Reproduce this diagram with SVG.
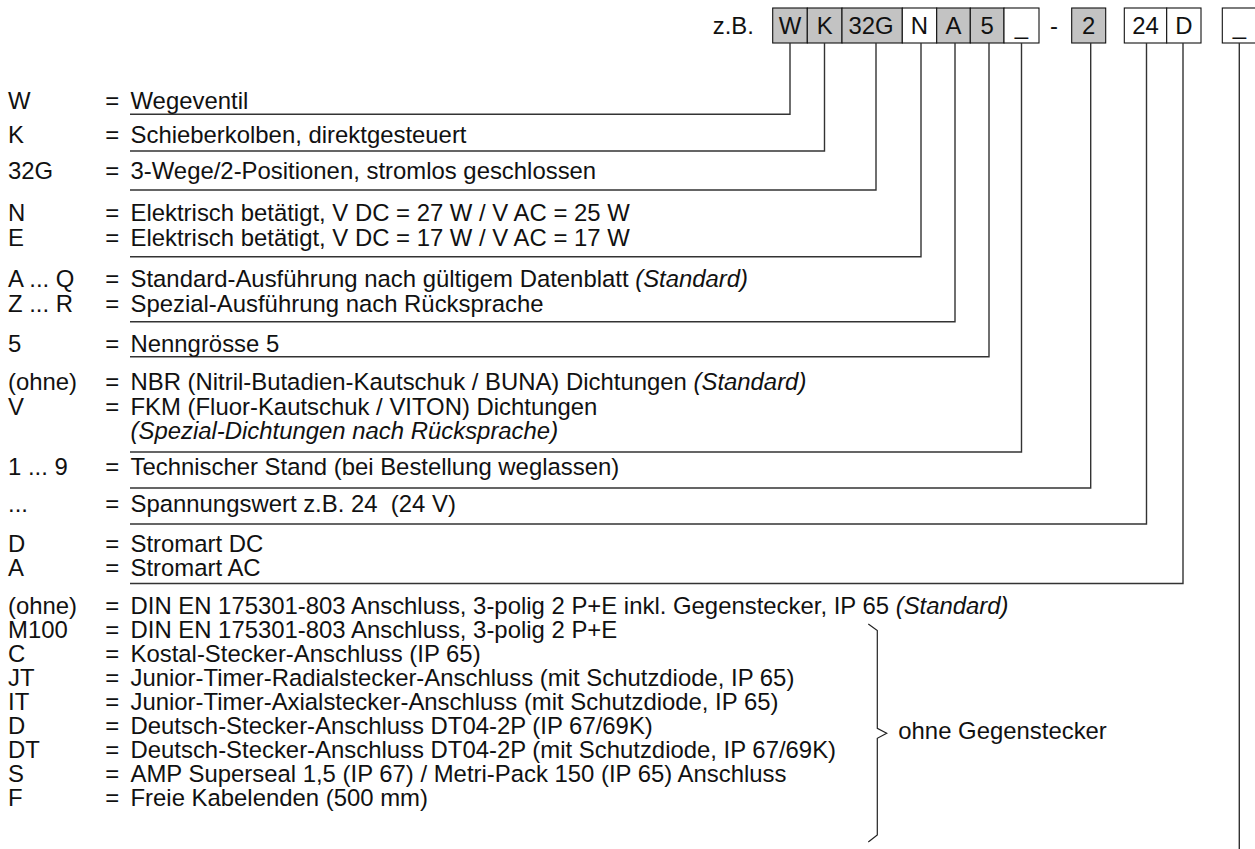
<svg xmlns="http://www.w3.org/2000/svg" width="1255" height="849" viewBox="0 0 1255 849">
<style>
text{font-family:"Liberation Sans",Arial,sans-serif;font-size:23.9px;fill:#111}
.i{font-style:italic}
.m{text-anchor:middle}
.bg{fill:#c3c3c3;stroke:#111;stroke-width:1.1}
.bw{fill:#fff;stroke:#111;stroke-width:1.1}
.c{fill:none;stroke:#333;stroke-width:1.4}
</style>
<rect width="1255" height="849" fill="#fff"/>
<g id="code">
<text x="712.7" y="34">z.B.</text>
<g id="box-W"><rect class="bg" x="772.7" y="8" width="34.6" height="35"/><text class="m" x="790" y="34">W</text></g>
<g id="box-K"><rect class="bg" x="807.3" y="8" width="34.7" height="35"/><text class="m" x="824.6" y="34">K</text></g>
<g id="box-32G"><rect class="bg" x="842" y="8" width="60.3" height="35"/><text class="m" x="871" y="34">32G</text></g>
<g id="box-N"><rect class="bw" x="902.3" y="8" width="34.4" height="35"/><text class="m" x="919.5" y="34">N</text></g>
<g id="box-A"><rect class="bg" x="936.7" y="8" width="33.6" height="35"/><text class="m" x="953.5" y="34">A</text></g>
<g id="box-5"><rect class="bg" x="970.3" y="8" width="33.7" height="35"/><text class="m" x="987.2" y="34">5</text></g>
<g id="box-seal"><rect class="bw" x="1004" y="8" width="35" height="35"/><text class="m" x="1021.5" y="34">_</text></g>
<text class="m" x="1054" y="34">-</text>
<g id="box-2"><rect class="bg" x="1071.7" y="8" width="34" height="35"/><text class="m" x="1088.7" y="34">2</text></g>
<g id="box-24"><rect class="bw" x="1124.3" y="8" width="42.4" height="35"/><text class="m" x="1145.5" y="34">24</text></g>
<g id="box-D"><rect class="bw" x="1166.7" y="8" width="34.3" height="35"/><text class="m" x="1183.8" y="34">D</text></g>
<g id="box-conn"><rect class="bw" x="1222.3" y="8" width="34" height="35"/><text class="m" x="1239.3" y="34">_</text></g>
</g>
<g id="connectors">
<path class="c" d="M790,43V114.3H130"/>
<path class="c" d="M824.5,43V151H130"/>
<path class="c" d="M876,43V190H130"/>
<path class="c" d="M921,43V256.7H130"/>
<path class="c" d="M955,43V321.7H130"/>
<path class="c" d="M989,43V356.7H130"/>
<path class="c" d="M1021.5,43V452H130"/>
<path class="c" d="M1090.7,43V488H130"/>
<path class="c" d="M1146.5,43V524H130"/>
<path class="c" d="M1183,43V583.5H130"/>
<path class="c" d="M1239.3,43V849"/>
</g>
<g id="row-W"><text x="8" y="108.5">W</text><text x="105.3" y="108.5">=</text><text x="130.5" y="108.5">Wegeventil</text></g>
<g id="row-K"><text x="8" y="143">K</text><text x="105.3" y="143">=</text><text x="130.5" y="143">Schieberkolben, direktgesteuert</text></g>
<g id="row-32G"><text x="8" y="179">32G</text><text x="105.3" y="179">=</text><text x="130.5" y="179">3-Wege/2-Positionen, stromlos geschlossen</text></g>
<g id="row-N"><text x="8" y="221">N</text><text x="105.3" y="221">=</text><text x="130.5" y="221">Elektrisch betätigt, V DC = 27 W / V AC = 25 W</text></g>
<g id="row-E"><text x="8" y="246">E</text><text x="105.3" y="246">=</text><text x="130.5" y="246">Elektrisch betätigt, V DC = 17 W / V AC = 17 W</text></g>
<g id="row-AQ"><text x="8" y="287">A ... Q</text><text x="105.3" y="287">=</text><text x="130.5" y="287">Standard-Ausführung nach gültigem Datenblatt <tspan class="i">(Standard)</tspan></text></g>
<g id="row-ZR"><text x="8" y="312">Z ... R</text><text x="105.3" y="312">=</text><text x="130.5" y="312">Spezial-Ausführung nach Rücksprache</text></g>
<g id="row-5"><text x="8" y="351.5">5</text><text x="105.3" y="351.5">=</text><text x="130.5" y="351.5">Nenngrösse 5</text></g>
<g id="row-ohne1"><text x="8" y="390">(ohne)</text><text x="105.3" y="390">=</text><text x="130.5" y="390">NBR (Nitril-Butadien-Kautschuk / BUNA) Dichtungen <tspan class="i">(Standard)</tspan></text></g>
<g id="row-V"><text x="8" y="414.5">V</text><text x="105.3" y="414.5">=</text><text x="130.5" y="414.5">FKM (Fluor-Kautschuk / VITON) Dichtungen</text><text class="i" x="130.5" y="439">(Spezial-Dichtungen nach Rücksprache)</text></g>
<g id="row-19"><text x="8" y="475">1 ... 9</text><text x="105.3" y="475">=</text><text x="130.5" y="475">Technischer Stand (bei Bestellung weglassen)</text></g>
<g id="row-dots"><text x="8" y="512">...</text><text x="105.3" y="512">=</text><text x="130.5" y="512">Spannungswert z.B. 24&#160; (24 V)</text></g>
<g id="row-D1"><text x="8" y="551.5">D</text><text x="105.3" y="551.5">=</text><text x="130.5" y="551.5">Stromart DC</text></g>
<g id="row-A1"><text x="8" y="575.5">A</text><text x="105.3" y="575.5">=</text><text x="130.5" y="575.5">Stromart AC</text></g>
<g id="row-ohne2"><text x="8" y="614">(ohne)</text><text x="105.3" y="614">=</text><text x="130.5" y="614">DIN EN 175301-803 Anschluss, 3-polig 2 P+E inkl. Gegenstecker, IP 65 <tspan class="i">(Standard)</tspan></text></g>
<g id="row-M100"><text x="8" y="638">M100</text><text x="105.3" y="638">=</text><text x="130.5" y="638">DIN EN 175301-803 Anschluss, 3-polig 2 P+E</text></g>
<g id="row-C"><text x="8" y="661.5">C</text><text x="105.3" y="661.5">=</text><text x="130.5" y="661.5">Kostal-Stecker-Anschluss (IP 65)</text></g>
<g id="row-JT"><text x="8" y="685.5">JT</text><text x="105.3" y="685.5">=</text><text x="130.5" y="685.5">Junior-Timer-Radialstecker-Anschluss (mit Schutzdiode, IP 65)</text></g>
<g id="row-IT"><text x="8" y="709.5">IT</text><text x="105.3" y="709.5">=</text><text x="130.5" y="709.5">Junior-Timer-Axialstecker-Anschluss (mit Schutzdiode, IP 65)</text></g>
<g id="row-D2"><text x="8" y="733.5">D</text><text x="105.3" y="733.5">=</text><text x="130.5" y="733.5">Deutsch-Stecker-Anschluss DT04-2P (IP 67/69K)</text></g>
<g id="row-DT"><text x="8" y="757.5">DT</text><text x="105.3" y="757.5">=</text><text x="130.5" y="757.5">Deutsch-Stecker-Anschluss DT04-2P (mit Schutzdiode, IP 67/69K)</text></g>
<g id="row-S"><text x="8" y="781.5">S</text><text x="105.3" y="781.5">=</text><text x="130.5" y="781.5">AMP Superseal 1,5 (IP 67) / Metri-Pack 150 (IP 65) Anschluss</text></g>
<g id="row-F"><text x="8" y="805.5">F</text><text x="105.3" y="805.5">=</text><text x="130.5" y="805.5">Freie Kabelenden (500 mm)</text></g>
<g id="brace">
<path d="M868.3,624L877.3,630.5V728.3L886.7,733.3L877.3,738.3V835L868.3,842" fill="none" stroke="#222" stroke-width="1.2"/>
<text x="898.3" y="738.5">ohne Gegenstecker</text>
</g>
</svg>
